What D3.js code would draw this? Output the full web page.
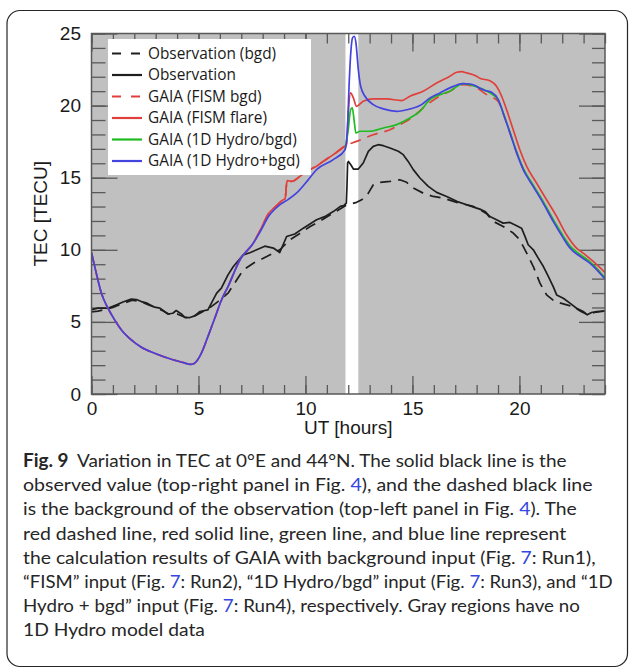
<!DOCTYPE html>
<html>
<head>
<meta charset="utf-8">
<script src="https://cdn.jsdelivr.net/npm/d3@7"></script>
<style>
  html, body { margin: 0; padding: 0; background: #fff; }
  svg { display: block; }
</style>
</head>
<body>
<svg id="fig" width="629" height="668"></svg>
<script>
// ---- TEC data, [UT hour, TEC in TECU] ----
const obsBgd = [
  [0,5.7],[0.3,5.75],[0.6,5.85],[1.0,6.0],[1.5,6.3],[1.9,6.5],[2.3,6.4],[2.7,6.15],[3.0,6.0],
  [3.3,5.8],[3.6,5.55],[4.0,5.55],[4.4,5.3],[4.8,5.4],[5.13,5.65],[5.5,5.95],[5.91,6.41],
  [6.38,6.99],[7.09,8.6],[7.6,9.1],[8.19,9.53],[8.8,10.0],[9.28,10.7],[9.7,11.1],[10.2,11.6],
  [10.8,12.1],[11.3,12.55],[11.91,13.1],[12.39,13.29],[12.63,13.47],[12.94,13.93],[13.17,14.51],
  [13.48,14.68],[13.95,14.74],[14.41,14.86],[14.73,14.68],[15.04,14.28],[15.5,13.93],[15.97,13.7],
  [16.44,13.59],[17.07,13.29],[17.84,13.01],[18.2,12.75],[18.47,12.5],[18.78,11.97],[19.24,11.62],
  [19.71,11.16],[20.02,10.69],[20.34,9.77],[20.65,8.84],[20.96,7.69],[21.27,6.87],[21.66,6.41],
  [22.05,6.25],[22.51,6.06],[22.9,5.7],[23.2,5.5],[23.5,5.65],[24,5.75]
];
const obs = [
  [0,5.85],[0.3,5.95],[0.77,5.95],[1.2,6.2],[1.5,6.4],[1.86,6.58],[2.1,6.55],[2.33,6.41],[2.6,6.3],
  [2.95,6.02],[3.2,5.95],[3.57,5.55],[3.8,5.6],[3.96,5.79],[4.2,5.55],[4.36,5.32],[4.6,5.3],
  [4.82,5.42],[5.07,5.72],[5.44,5.83],[5.85,6.99],[6.07,7.34],[6.38,8.26],[6.63,8.84],[7.09,9.65],
  [7.4,9.8],[7.72,10.0],[8.1,10.25],[8.5,10.12],[8.8,9.81],[9.12,10.92],[9.5,11.1],[9.9,11.5],
  [10.52,12.08],[10.9,12.3],[11.3,12.65],[11.63,13.01],[11.79,13.06],[11.91,13.24],[11.94,14.4],
  [11.97,16.02],[12.01,16.13],[12.12,15.9],[12.24,15.6],[12.47,15.6],[12.7,16.02],[12.94,16.83],
  [13.17,17.17],[13.4,17.29],[13.64,17.22],[13.95,17.06],[14.34,16.83],[14.57,16.6],[14.8,16.13],
  [15.04,15.56],[15.35,14.98],[15.74,14.4],[16.13,13.98],[16.6,13.7],[17.07,13.36],[17.53,13.12],
  [18.0,12.89],[18.15,12.82],[18.39,12.66],[18.62,12.31],[18.93,12.08],[19.24,11.85],[19.56,11.9],
  [19.87,11.67],[20.1,11.5],[20.26,10.93],[20.41,10.35],[20.65,10.0],[20.88,9.42],[21.12,8.84],
  [21.35,8.15],[21.58,7.45],[21.74,6.87],[22.05,6.64],[22.36,6.3],[22.67,5.95],[22.98,5.72],
  [23.17,5.49],[23.37,5.65],[23.61,5.72],[24,5.76]
];
// GAIA background run before the flare (shared by both FISM runs)
const gaiaPre = [
  [0,9.8],[0.22,8.4],[0.46,7.0],[0.77,5.95],[1.08,5.14],[1.4,4.44],[1.86,3.75],[2.33,3.24],
  [2.95,2.82],[3.73,2.41],[4.3,2.18],[4.62,2.05],[4.78,2.1],[4.9,2.25],[5.13,2.82],[5.44,3.98],
  [5.76,5.25],[6.07,6.5],[6.38,7.45],[6.94,9.31],[7.56,10.46],[7.9,11.4],[8.27,12.5],[8.6,13.0],
  [8.96,13.47],[9.05,13.55],[9.12,14.6],[9.15,14.8],[9.35,14.74],[9.74,15.09],[10.2,15.56],
  [10.52,15.8],[10.83,16.13],[11.3,16.6],[11.85,17.2]
];
const fismBgdPost = [
  [12.39,17.52],[13.17,17.98],[13.95,18.33],[14.41,18.68],[14.96,19.14],[15.5,19.84],[16.13,20.53],
  [16.75,21.0],[17.37,21.46],[18.0,21.23],[18.47,20.76],[19.0,20.3],[19.24,19.45],[19.56,18.1],
  [19.87,16.75],[20.18,15.6],[20.64,14.45],[21.11,13.3],[21.58,12.05],[22.05,10.9],[22.36,10.22],
  [22.83,9.64],[23.29,9.15],[24,8.05]
];
const fismFlarePost = [
  [11.92,17.3],[12.0,19.49],[12.11,20.88],[12.24,20.53],[12.39,19.95],[12.7,20.3],[13.17,20.46],
  [13.79,20.46],[14.49,20.35],[14.88,20.65],[15.5,21.0],[16.13,21.57],[16.75,22.04],[17.07,22.31],
  [17.3,22.35],[17.53,22.27],[18.0,22.04],[18.15,21.9],[18.62,21.72],[18.93,21.34],[19.17,20.65],
  [19.4,19.72],[19.71,18.33],[20.02,16.94],[20.34,15.78],[20.8,14.63],[21.27,13.47],[21.74,12.31],
  [22.2,11.04],[22.67,10.12],[22.98,9.77],[23.45,9.19],[24,8.42]
];
const fismBgd = gaiaPre.concat(fismBgdPost);
const fismFlare = gaiaPre.concat(fismFlarePost);
const hydroBgd = [
  [11.85,16.94],[12.0,18.33],[12.11,19.72],[12.19,19.84],[12.27,19.03],[12.36,18.1],[12.55,18.22],
  [13.01,18.22],[13.64,18.45],[14.26,18.68],[14.88,19.14],[15.35,19.6],[15.82,20.41],[16.29,20.76],
  [16.75,21.0],[17.37,21.53],[18.0,21.3],[18.62,20.88],[19.01,20.4],[19.24,19.5],[19.56,18.15],
  [19.87,16.8],[20.18,15.65],[20.64,14.5],[21.11,13.35],[21.58,12.1],[22.05,10.95],[22.36,10.27],
  [22.83,9.68],[23.29,9.18],[24,8.05]
];
const hydroPlusBgd = [
  [0,9.8],[0.22,8.4],[0.46,7.0],[0.77,5.95],[1.08,5.14],[1.4,4.44],[1.86,3.75],[2.33,3.24],
  [2.95,2.82],[3.73,2.41],[4.3,2.18],[4.62,2.05],[4.78,2.1],[4.9,2.25],[5.13,2.82],[5.44,3.98],
  [5.76,5.25],[6.07,6.5],[6.38,7.45],[6.94,9.31],[7.56,10.46],[7.9,11.3],[8.27,12.31],[8.81,13.13],
  [9.2,13.5],[9.59,13.94],[10.1,14.8],[10.52,15.56],[11.3,16.25],[11.85,16.94],[11.96,18.33],
  [12.05,21.8],[12.13,23.9],[12.2,24.7],[12.28,24.81],[12.36,24.35],[12.47,22.5],[12.58,21.34],
  [12.78,20.65],[13.17,20.07],[13.64,19.77],[14.26,19.6],[14.89,19.77],[15.35,20.0],[15.82,20.53],
  [16.29,20.88],[16.75,21.23],[17.37,21.53],[17.7,21.5],[18.0,21.34],[18.15,21.2],[18.4,21.05],
  [18.7,20.92],[19.01,20.42],[19.24,19.49],[19.56,18.1],[19.87,16.72],[20.18,15.56],[20.64,14.4],
  [21.11,13.24],[21.58,11.97],[22.05,10.81],[22.36,10.12],[22.83,9.54],[23.29,9.07],[24,7.97]
];
// hours without 1D Hydro model output
const noHydroRanges = [[0, 11.87], [12.47, 24]];

const xTicks = [0, 5, 10, 15, 20];
const yTicks = [0, 5, 10, 15, 20, 25];
const xMinorTicks = d3.range(0, 25, 1);
const yMinorTicks = d3.range(0, 26, 1);

const legendLabels = [
  "Observation (bgd)", "Observation", "GAIA (FISM bgd)",
  "GAIA (FISM flare)", "GAIA (1D Hydro/bgd)", "GAIA (1D Hydro+bgd)"
];

const captionLines = [
  [["Fig. 9", "b"], ["Variation in TEC at 0°E and 44°N. The solid black line is the", "s"]],
  [["observed value (top-right panel in Fig. ", ""], ["4", "l"], ["), and the dashed black line", ""]],
  [["is the background of the observation (top-left panel in Fig. ", ""], ["4", "l"], ["). The", ""]],
  [["red dashed line, red solid line, green line, and blue line represent", ""]],
  [["the calculation results of GAIA with background input (Fig. ", ""], ["7", "l"], [": Run1),", ""]],
  [["“FISM” input (Fig. ", ""], ["7", "l"], [": Run2), “1D Hydro/bgd” input (Fig. ", ""], ["7", "l"], [": Run3), and “1D", ""]],
  [["Hydro + bgd” input (Fig. ", ""], ["7", "l"], [": Run4), respectively. Gray regions have no", ""]],
  [["1D Hydro model data", ""]]
];
const captionRightEdges = [567, 593, 577, 567, 596, 613, 580, 205];

// ---- layout ----
const plot = { left: 91.5, right: 605, top: 33.5, bottom: 394 };
const svg = d3.select("#fig");
const x = d3.scaleLinear().domain([0, 24]).range([plot.left, plot.right]);
const y = d3.scaleLinear().domain([0, 25]).range([plot.bottom, plot.top]);
const axisFont = "'Liberation Sans', Arial, sans-serif";
const axisColor = "#595959";

// figure frame
svg.append("rect")
  .attr("x", 7).attr("y", 10.5).attr("width", 620.5).attr("height", 656)
  .attr("rx", 13).attr("fill", "none").attr("stroke", "#262626").attr("stroke-width", 1.2);

// gray bands
svg.append("g").selectAll("rect").data(noHydroRanges).join("rect")
  .attr("x", d => x(d[0])).attr("width", d => x(d[1]) - x(d[0]))
  .attr("y", plot.top).attr("height", plot.bottom - plot.top)
  .attr("fill", "#c0c0c0");

svg.append("clipPath").attr("id", "plotClip").append("rect")
  .attr("x", plot.left).attr("y", plot.top - 2)
  .attr("width", plot.right - plot.left).attr("height", plot.bottom - plot.top + 2);

// axes (ticks point inward)
function tidy(g) {
  g.select(".domain").remove();
  g.selectAll(".tick line").attr("stroke", axisColor).attr("stroke-width", 1.3);
  g.selectAll(".tick text").attr("fill", "#1a1a1a")
    .style("font-family", axisFont).style("font-size", "19px");
}
svg.append("g").attr("transform", `translate(0,${plot.bottom})`)
  .call(d3.axisBottom(x).tickValues(xMinorTicks).tickSize(-9).tickFormat("")).call(tidy);
svg.append("g").attr("transform", `translate(0,${plot.bottom})`)
  .call(d3.axisBottom(x).tickValues(xTicks).tickSize(-18).tickPadding(7.5).tickFormat(d3.format("d"))).call(tidy);
svg.append("g").attr("transform", `translate(0,${plot.top})`)
  .call(d3.axisTop(x).tickValues(xMinorTicks).tickSize(-10).tickFormat("")).call(tidy);
svg.append("g").attr("transform", `translate(0,${plot.top})`)
  .call(d3.axisTop(x).tickValues(xTicks).tickSize(-18).tickFormat("")).call(tidy);
svg.append("g").attr("transform", `translate(${plot.left},0)`)
  .call(d3.axisLeft(y).tickValues(yMinorTicks).tickSize(-14).tickFormat("")).call(tidy);
svg.append("g").attr("transform", `translate(${plot.left},0)`)
  .call(d3.axisLeft(y).tickValues(yTicks).tickSize(-26).tickPadding(10.5).tickFormat(d3.format("d"))).call(tidy);
svg.append("g").attr("transform", `translate(${plot.right},0)`)
  .call(d3.axisRight(y).tickValues(yMinorTicks).tickSize(-13).tickFormat("")).call(tidy);
svg.append("g").attr("transform", `translate(${plot.right},0)`)
  .call(d3.axisRight(y).tickValues(yTicks).tickSize(-26).tickFormat("")).call(tidy);

// series
const lineLinear = d3.line().x(d => x(d[0])).y(d => y(d[1]));
const lineSmooth = d3.line().x(d => x(d[0])).y(d => y(d[1])).curve(d3.curveMonotoneX);
const series = [
  { data: obsBgd, color: "#1e1e1e", dash: "11,7", gen: lineLinear },
  { data: obs, color: "#1e1e1e", dash: null, gen: lineLinear },
  { data: fismBgd, color: "#e0403b", dash: "11,7", gen: lineSmooth },
  { data: fismFlare, color: "#e0403b", dash: null, gen: lineSmooth },
  { data: hydroBgd, color: "#20bb20", dash: null, gen: lineSmooth },
  { data: hydroPlusBgd, color: "#4343e0", dash: null, gen: lineSmooth }
];
const lines = svg.append("g").attr("clip-path", "url(#plotClip)");
series.forEach(s => {
  lines.append("path").attr("d", s.gen(s.data))
    .attr("fill", "none").attr("stroke", s.color).attr("stroke-width", 1.7)
    .attr("stroke-linejoin", "round")
    .attr("stroke-dasharray", s.dash);
});

// plot border
svg.append("rect")
  .attr("x", plot.left).attr("y", plot.top)
  .attr("width", plot.right - plot.left).attr("height", plot.bottom - plot.top)
  .attr("fill", "none").attr("stroke", axisColor).attr("stroke-width", 1.5);

// axis titles
svg.append("text").attr("x", (plot.left + plot.right) / 2).attr("y", 434)
  .attr("text-anchor", "middle").style("font-family", axisFont).style("font-size", "19px")
  .attr("fill", "#1a1a1a").text("UT [hours]");
svg.append("text").attr("transform", `translate(47,${(plot.top + plot.bottom) / 2}) rotate(-90)`)
  .attr("text-anchor", "middle").style("font-family", axisFont).style("font-size", "19px")
  .attr("fill", "#1a1a1a").text("TEC [TECU]");

// legend
const legend = svg.append("g");
legend.append("rect").attr("x", 108).attr("y", 39).attr("width", 203).attr("height", 136).attr("fill", "#fff");
const rows = legend.selectAll("g.row").data(legendLabels).join("g")
  .attr("class", "row")
  .attr("transform", (d, i) => `translate(0,${53.5 + i * 21.5})`);
rows.append("line").attr("x1", 112).attr("x2", 142)
  .attr("stroke", (d, i) => series[i].color).attr("stroke-width", 2.2)
  .attr("stroke-dasharray", (d, i) => series[i].dash ? "9,10" : null);
const legendText = rows.append("text").attr("x", 148).attr("dy", "0.35em")
  .style("font-family", "'Open Sans', sans-serif").style("font-size", "14px")
  .attr("fill", "#1a1a1a").text(d => d);
const widest = legendText.nodes()[5].getComputedTextLength();
legendText.style("font-size", (14 * 152 / widest).toFixed(2) + "px");

// caption
const cap = svg.append("g");
captionLines.forEach((segs, i) => {
  const g = cap.append("g");
  const t = g.append("text").style("font-family", "Lato, 'Open Sans', sans-serif")
    .style("font-size", "18px").attr("fill", "#262626");
  segs.forEach(([txt, kind]) => {
    const sp = t.append("tspan").text(txt);
    if (kind === "b") sp.style("font-weight", "bold");
    if (kind === "l") sp.attr("fill", "#3447e0");
    if (kind === "s") sp.attr("dx", 8);
  });
  const w = t.node().getBBox().width;
  const sx = (captionRightEdges[i] - 23) / w;
  g.attr("transform", `translate(23,${467 + i * 24.2}) scale(${sx},1)`);
});
</script>
</body>
</html>
